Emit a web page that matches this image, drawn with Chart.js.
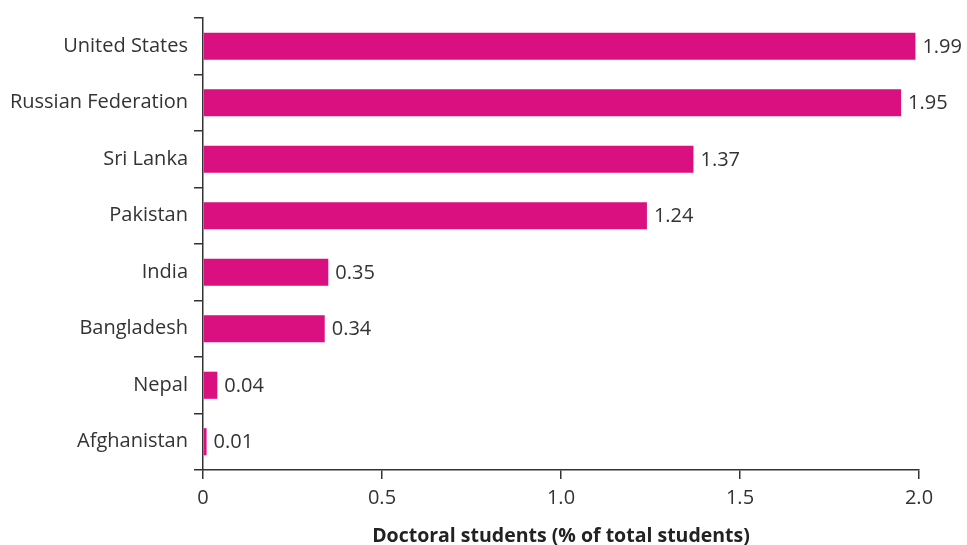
<!DOCTYPE html>
<html>
<head>
<meta charset="utf-8">
<script src="https://cdn.jsdelivr.net/npm/chart.js@4/dist/chart.umd.min.js"></script>
<style>
  html, body { margin: 0; padding: 0; background: #fff; }
  #wrap { width: 967px; height: 545px; position: relative; }
</style>
</head>
<body>
<div id="wrap"><canvas id="c"></canvas></div>
<script>
const countries = ['United States', 'Russian Federation', 'Sri Lanka', 'Pakistan', 'India', 'Bangladesh', 'Nepal', 'Afghanistan']
const shares = [1.99, 1.95, 1.37, 1.24, 0.35, 0.34, 0.04, 0.01]
const xTicks = [0, 0.5, 1.0, 1.5, 2.0]

const ink = '#333333'
const bar = '#DA0F80'
const font = '"Open Sans", Lato, sans-serif'

// writes the value just past each bar end
const valueLabels = {
  id: 'valueLabels',
  afterDatasetsDraw(chart) {
    const ctx = chart.ctx
    const meta = chart.getDatasetMeta(0)
    ctx.save()
    ctx.font = '20px ' + font
    ctx.fillStyle = ink
    ctx.textBaseline = 'middle'
    meta.data.forEach((el, i) => {
      ctx.fillText(shares[i].toFixed(2), el.x + 7, el.y + 1)
    })
    ctx.restore()
  },
}

new Chart(document.getElementById('c'), {
  type: 'bar',
  data: {
    labels: countries,
    datasets: [{ data: shares, backgroundColor: bar, barPercentage: 0.48, categoryPercentage: 1 }],
  },
  options: {
    indexAxis: 'y',
    responsive: true,
    maintainAspectRatio: false,
    animation: false,
    layout: { padding: { top: 8, right: 48, left: 0, bottom: 0 } },
    plugins: { legend: false, tooltip: { enabled: false } },
    scales: {
      y: {
        border: { color: ink, width: 1.5 },
        grid: { drawOnChartArea: false, tickLength: 9, color: ink, lineWidth: 1.5 },
        ticks: { color: ink, font: { family: font, size: 20 }, padding: 6 },
        afterFit: (s) => { s.width = 203 },
      },
      x: {
        min: 0,
        max: 2,
        afterBuildTicks: (s) => { s.ticks = xTicks.map((v) => ({ value: v })) },
        border: { color: ink, width: 1.5 },
        grid: { drawOnChartArea: false, tickLength: 9, color: ink, lineWidth: 1.5 },
        ticks: {
          color: ink,
          font: { family: font, size: 20 },
          padding: 7,
          maxRotation: 0,
          callback: (v) => (v === 0 ? '0' : v.toFixed(1)),
        },
        title: {
          display: true,
          text: 'Doctoral students (% of total students)',
          color: '#222',
          font: { family: font, size: 19.5, weight: 'bold' },
          padding: { top: 14, bottom: -3 },
        },
        afterFit: (s) => { s.height = 75 },
      },
    },
  },
  plugins: [valueLabels],
})
</script>
</body>
</html>
